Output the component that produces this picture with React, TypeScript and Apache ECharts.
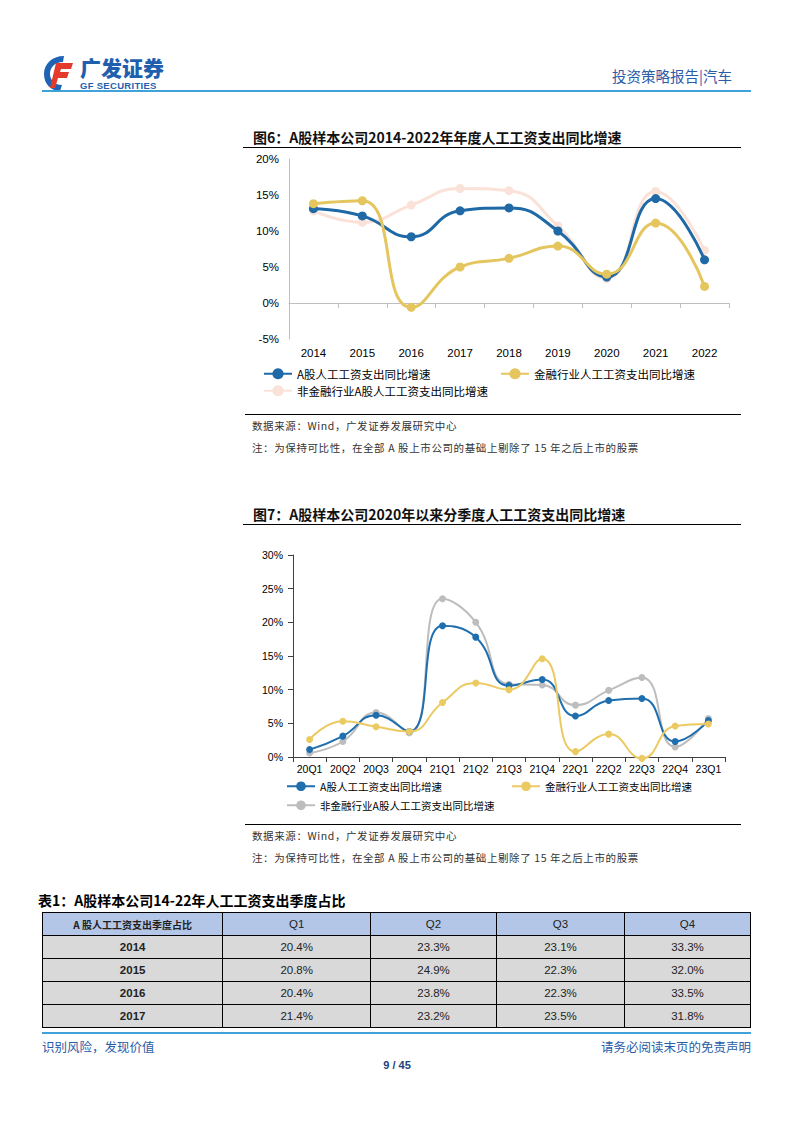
import React, { useEffect, useRef } from 'react';
import * as echarts from 'echarts';

// 图6 年度数据
const years = ['2014', '2015', '2016', '2017', '2018', '2019', '2020', '2021', '2022'];
const yearAll = [13.1, 12.1, 9.2, 12.8, 13.2, 10.0, 3.6, 14.5, 6.0];
const yearFin = [13.8, 14.2, -0.6, 5.0, 6.2, 7.9, 4.0, 11.1, 2.3];
const yearNonFin = [12.8, 11.2, 13.6, 15.9, 15.6, 10.7, 3.4, 15.5, 7.3];
const yearTicks = { min: -5, max: 20, step: 5 };

// 图7 季度数据
const quarters = ['20Q1', '20Q2', '20Q3', '20Q4', '21Q1', '21Q2', '21Q3', '21Q4', '22Q1', '22Q2', '22Q3', '22Q4', '23Q1'];
const qAll = [1.1, 3.1, 6.2, 3.8, 19.5, 17.8, 10.6, 11.5, 6.1, 8.4, 8.7, 2.3, 5.4];
const qFin = [2.6, 5.3, 4.5, 3.8, 8.1, 11.0, 10.0, 14.6, 0.8, 3.4, -0.2, 4.6, 4.9];
const qNonFin = [0.6, 2.3, 6.6, 3.6, 23.5, 20.0, 10.8, 10.7, 7.7, 9.9, 11.8, 1.5, 5.7];

const seriesNames = ['A股人工工资支出同比增速', '金融行业人工工资支出同比增速', '非金融行业A股人工工资支出同比增速'];

// 表1
const tableHead = ['A 股人工工资支出季度占比', 'Q1', 'Q2', 'Q3', 'Q4'];
const tableYears = ['2014', '2015', '2016', '2017'];
const tableRows = [
  ['20.4%', '23.3%', '23.1%', '33.3%'],
  ['20.8%', '24.9%', '22.3%', '32.0%'],
  ['20.4%', '23.8%', '22.3%', '33.5%'],
  ['21.4%', '23.2%', '23.5%', '31.8%'],
];

const CJK = '"Noto Sans CJK SC", "Liberation Sans", sans-serif';
const LAT = '"Liberation Sans", Arial, "Noto Sans CJK SC", sans-serif';
const NAVY = '#2A5CA8';

const useChart = (build: () => any) => {
  const ref = useRef<HTMLDivElement>(null);
  useEffect(() => {
    if (!ref.current) return;
    const chart = echarts.init(ref.current, null, { renderer: 'svg' });
    chart.setOption(build());
    return () => chart.dispose();
  }, []);
  return ref;
};

const legendText = (size: number) => ({ fontSize: size, color: '#000', fontFamily: CJK });

const AnnualChart: React.FC = () => {
  const ref = useChart(() => {
    const colors = ['#1F69A6', '#E4C55E', '#FBE2D8'];
    const mk = (name: string, data: number[], i: number, z: number) => ({
      name, type: 'line', data, smooth: 0.5, symbol: 'circle', symbolSize: 9, z,
      itemStyle: { color: colors[i] }, lineStyle: { width: 3, color: colors[i] },
    });
    const plotTop = 9, plotH = 180;
    // 0% 基准线所在高度：第二个 grid 的下边缘正好落在 0 处
    const zeroH = plotH * yearTicks.max / (yearTicks.max - yearTicks.min);
    return {
      animation: false,
      grid: [
        { left: 49, top: plotTop, width: 440, height: plotH },
        { left: 49, top: plotTop, width: 440, height: zeroH },
      ],
      legend: [
        { data: [seriesNames[0]], left: 18, top: 213, itemWidth: 28, itemHeight: 14, itemGap: 2, textStyle: legendText(11.5) },
        { data: [seriesNames[1]], left: 255, top: 213, itemWidth: 28, itemHeight: 14, textStyle: legendText(11.5) },
        { data: [seriesNames[2]], left: 18, top: 230, itemWidth: 28, itemHeight: 14, textStyle: legendText(11.5) },
      ],
      xAxis: [
        {
          type: 'category', data: years, gridIndex: 0,
          axisLine: { show: false }, axisTick: { show: false },
          axisLabel: { fontSize: 11.5, color: '#000', margin: 8, fontFamily: LAT },
        },
        {
          type: 'category', data: years, gridIndex: 1,
          axisLine: { show: true, onZero: false, lineStyle: { color: '#BFBFBF', width: 1 } },
          axisTick: { show: true, length: 5, lineStyle: { color: '#BFBFBF' } },
          axisLabel: { show: false },
        },
      ],
      yAxis: [
        {
          type: 'value', min: yearTicks.min, max: yearTicks.max, interval: yearTicks.step, gridIndex: 0,
          axisLine: { show: true, lineStyle: { color: '#BFBFBF' } }, axisTick: { show: false },
          splitLine: { show: false },
          axisLabel: { formatter: '{value}%', fontSize: 11.5, color: '#000', margin: 10, fontFamily: LAT },
        },
        { type: 'value', gridIndex: 1, show: false, min: 0, max: 1 },
      ],
      series: [
        mk(seriesNames[0], yearAll, 0, 4),
        mk(seriesNames[1], yearFin, 1, 5),
        mk(seriesNames[2], yearNonFin, 2, 2),
      ],
    };
  });
  return <div ref={ref} style={{ position: 'absolute', left: 240, top: 150, width: 500, height: 260 }} />;
};

const QuarterChart: React.FC = () => {
  const ref = useChart(() => {
    const colors = ['#1F6EAE', '#EBCA62', '#BDBDBD'];
    const mk = (name: string, data: number[], i: number, z: number) => ({
      name, type: 'line', data, smooth: 0.5, symbol: 'circle', symbolSize: 7, z, clip: false,
      itemStyle: { color: colors[i] }, lineStyle: { width: 2, color: colors[i] },
    });
    return {
      animation: false,
      grid: { left: 53, top: 15, width: 432, height: 202 },
      legend: [
        { data: [seriesNames[0]], left: 41, top: 236, itemWidth: 28, itemHeight: 12, itemGap: 2, textStyle: legendText(10.5) },
        { data: [seriesNames[1]], left: 266, top: 236, itemWidth: 28, itemHeight: 12, textStyle: legendText(10.5) },
        { data: [seriesNames[2]], left: 41, top: 255, itemWidth: 28, itemHeight: 12, textStyle: legendText(10.5) },
      ],
      xAxis: {
        type: 'category', data: quarters,
        axisLine: { lineStyle: { color: '#404040', width: 1 } },
        axisTick: { show: true, length: 5, lineStyle: { color: '#404040' } },
        axisLabel: { interval: 0, hideOverlap: false, fontSize: 10.5, color: '#000', margin: 7, fontFamily: LAT },
      },
      yAxis: {
        type: 'value', min: 0, max: 30, interval: 5,
        axisLine: { show: true, lineStyle: { color: '#404040' } },
        axisTick: { show: true, length: 5, lineStyle: { color: '#404040' } },
        splitLine: { show: false },
        axisLabel: { formatter: '{value}%', fontSize: 10.5, color: '#000', margin: 10, fontFamily: LAT },
      },
      series: [
        mk(seriesNames[0], qAll, 0, 3),
        mk(seriesNames[1], qFin, 1, 4),
        mk(seriesNames[2], qNonFin, 2, 2),
      ],
    };
  });
  return <div ref={ref} style={{ position: 'absolute', left: 240, top: 540, width: 500, height: 280 }} />;
};

const abs = (s: React.CSSProperties): React.CSSProperties => ({ position: 'absolute', ...s });

const Logo: React.FC = () => (
  <svg style={abs({ left: 42, top: 54, width: 32, height: 38 })} viewBox="0 0 32 38">
    <path d="M22 2 C10 2 2 10 2 20 C2 30 9 37 18 37 L20 31 C13 31 8 26 8 20 C8 13 13 8 21 8 Z" fill="#1F63B4" />
    <path d="M14 9 L31 9 L29 15 L19 15 L18 18 L27 18 L25 24 L16 24 L13 34 L8 34 Z" fill="#E43A2B" />
  </svg>
);

const NoteBlock: React.FC<{ top: number }> = ({ top }) => (
  <>
    <div style={abs({ left: 245, top, width: 496, height: 0, borderTop: '1.3px solid #000' })} />
    <div style={abs({ left: 252, top: top + 4, fontSize: 10.5, color: '#333', fontFamily: CJK, whiteSpace: 'nowrap', letterSpacing: 0.6 })}>
      数据来源：Wind，广发证券发展研究中心
    </div>
    <div style={abs({ left: 252, top: top + 26, fontSize: 10.5, color: '#333', fontFamily: CJK, whiteSpace: 'nowrap', letterSpacing: 0.6 })}>
      注：为保持可比性，在全部 A 股上市公司的基础上剔除了 15 年之后上市的股票
    </div>
  </>
);

const FigTitle: React.FC<{ top: number; text: string }> = ({ top, text }) => (
  <>
    <div style={abs({ left: 253, top, fontSize: 14, fontWeight: 'bold', color: '#111', fontFamily: CJK, whiteSpace: 'nowrap' })}>{text}</div>
    <div style={abs({ left: 243, top: top + 20, width: 498, height: 0, borderTop: '1.5px solid #000' })} />
  </>
);

const cell = (extra: React.CSSProperties): React.CSSProperties => ({
  border: '1px solid #000', height: 22, padding: 0, textAlign: 'center', verticalAlign: 'middle', ...extra,
});

const App: React.FC = () => {
  const colW = [181, 148, 126, 128, 126];
  return (
    <div style={{ position: 'absolute', left: 0, top: 0, width: 794, height: 1123, background: '#fff', overflow: 'hidden' }}>
      {/* 页眉 */}
      <Logo />
      <div style={abs({ left: 80, top: 55, fontSize: 21, fontWeight: 900, color: '#1F5FAE', fontFamily: CJK, letterSpacing: 0, lineHeight: '24px' })}>广发证券</div>
      <div style={abs({ left: 80, top: 81, fontSize: 9.5, fontWeight: 'bold', color: '#1F5FAE', fontFamily: LAT, letterSpacing: 0.3, lineHeight: '10px' })}>GF SECURITIES</div>
      <div style={abs({ left: 612, top: 66, fontSize: 14.5, color: NAVY, fontFamily: CJK, lineHeight: '20px' })}>投资策略报告|汽车</div>
      <div style={abs({ left: 42, top: 90, width: 709, height: 2, background: '#3FA3DA' })} />

      {/* 图6 */}
      <FigTitle top={127} text="图6：A股样本公司2014-2022年年度人工工资支出同比增速" />
      <AnnualChart />
      <NoteBlock top={414} />

      {/* 图7 */}
      <FigTitle top={504} text="图7：A股样本公司2020年以来分季度人工工资支出同比增速" />
      <QuarterChart />
      <NoteBlock top={824} />

      {/* 表1 */}
      <div style={abs({ left: 38, top: 890, fontSize: 14, fontWeight: 'bold', color: '#000', fontFamily: CJK, whiteSpace: 'nowrap' })}>
        表1：A股样本公司14-22年人工工资支出季度占比
      </div>
      <table style={abs({ left: 42, top: 912, width: 709, borderCollapse: 'collapse', fontFamily: LAT, fontSize: 11.5, color: '#222' })}>
        <tbody>
          <tr style={{ background: '#B4C6E7' }}>
            {tableHead.map((h, i) => (
              <td key={h} style={cell({ width: colW[i], fontWeight: i === 0 ? 'bold' : 'normal', fontSize: i === 0 ? 10 : 11.5, fontFamily: i === 0 ? CJK : LAT })}>{h}</td>
            ))}
          </tr>
          {tableRows.map((row, r) => (
            <tr key={tableYears[r]} style={{ background: '#D9D9D9' }}>
              <td style={cell({ fontWeight: 'bold' })}>{tableYears[r]}</td>
              {row.map((v, c) => (
                <td key={c} style={cell({})}>{v}</td>
              ))}
            </tr>
          ))}
        </tbody>
      </table>

      {/* 页脚 */}
      <div style={abs({ left: 42, top: 1032, width: 709, height: 2, background: '#3FA3DA' })} />
      <div style={abs({ left: 42, top: 1038, fontSize: 12.5, color: NAVY, fontFamily: CJK, lineHeight: '18px' })}>识别风险，发现价值</div>
      <div style={abs({ left: 596, top: 1038, width: 155, textAlign: 'right', fontSize: 12.5, color: NAVY, fontFamily: CJK, lineHeight: '18px', whiteSpace: 'nowrap' })}>请务必阅读末页的免责声明</div>
      <div style={abs({ left: 347, top: 1057, width: 100, textAlign: 'center', fontSize: 11, fontWeight: 'bold', color: '#1B3F7A', fontFamily: LAT, lineHeight: '16px' })}>9 / 45</div>
    </div>
  );
};

export default App;
